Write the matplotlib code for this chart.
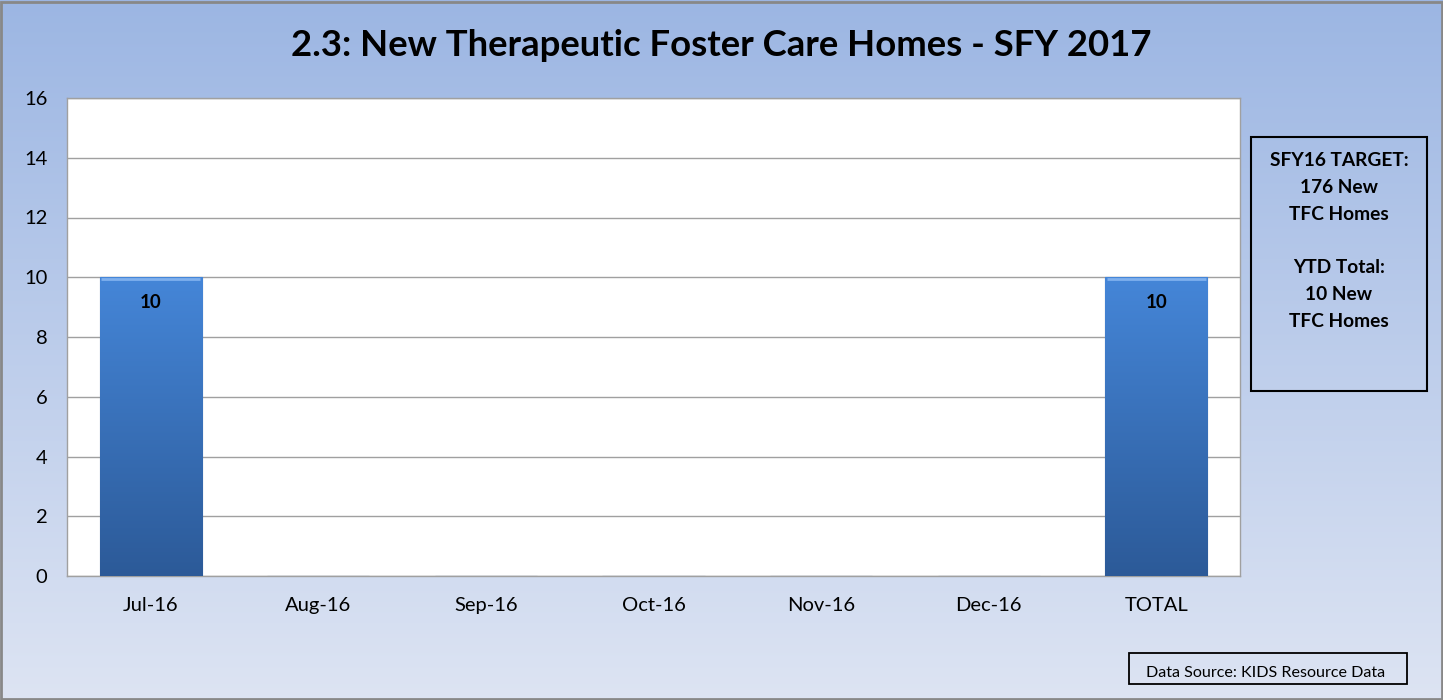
import matplotlib.pyplot as plt
import numpy as np
from matplotlib.patches import Rectangle

plt.rcParams['font.family'] = ['Lato', 'DejaVu Sans']

categories = ["Jul-16", "Aug-16", "Sep-16", "Oct-16", "Nov-16", "Dec-16", "TOTAL"]
values = [10, 0, 0, 0, 0, 0, 10]
yticks = [0, 2, 4, 6, 8, 10, 12, 14, 16]
title = "2.3: New Therapeutic Foster Care Homes - SFY 2017"
side_note = "SFY16 TARGET:\n176 New\nTFC Homes\n\nYTD Total:\n10 New\nTFC Homes"
source_note = "Data Source: KIDS Resource Data"

W, H = 1443, 700
fig = plt.figure(figsize=(W / 100, H / 100), dpi=100)

# background gradient over the whole figure
bg = fig.add_axes([0, 0, 1, 1], zorder=0)
grad = np.linspace(0, 1, 256).reshape(-1, 1)
top = np.array([0x9c, 0xb6, 0xe3]) / 255
bot = np.array([0xdd, 0xe4, 0xf3]) / 255
img = top + (bot - top) * grad[..., None]
bg.imshow(img, aspect="auto", extent=[0, 1, 0, 1], origin="upper")
bg.add_patch(Rectangle((0.001, 0.002), 0.998, 0.995, fill=False,
                       edgecolor="#888888", linewidth=2, transform=bg.transAxes))
bg.set_axis_off()

ax = fig.add_axes([67 / W, 1 - 576 / H, (1240 - 67) / W, (576 - 98) / H], zorder=1)
ax.set_facecolor("white")
x = np.arange(len(categories))
bars = ax.bar(x, values, width=0.61, color="#3b73bd", edgecolor="#2a5286",
              linewidth=0.8, zorder=3)

# vertical gradient inside each bar
bar_grad = np.linspace(0, 1, 256).reshape(-1, 1)
c_top = np.array([0x45, 0x86, 0xd8]) / 255
c_bot = np.array([0x2c, 0x5a, 0x98]) / 255
bar_img = c_top + (c_bot - c_top) * bar_grad[..., None]
for b in bars:
    if b.get_height() == 0:
        continue
    x0, w, h = b.get_x(), b.get_width(), b.get_height()
    im = ax.imshow(bar_img, aspect="auto", extent=[x0, x0 + w, 0, h],
                   origin="upper", zorder=3.5)
    im.set_clip_path(b)
    # light bevel along the top edge
    ax.plot([x0 + 0.01, x0 + w - 0.01], [h - 0.05, h - 0.05], color="#7fb0ee",
            linewidth=2, zorder=3.6, solid_capstyle="butt")
    ax.annotate(str(h), xy=(x0 + w / 2, h), xytext=(0, -18),
                textcoords="offset points", ha="center", va="center",
                fontsize=13.5, fontweight="bold", zorder=5)

ax.set_xlim(-0.5, len(categories) - 0.5)
ax.set_ylim(0, 16)
ax.set_yticks(yticks)
ax.set_xticks(x)
ax.set_xticklabels(categories, fontsize=14.5)
ax.tick_params(axis="y", labelsize=14.5, length=0, pad=14)
ax.tick_params(axis="x", length=0, pad=15)
ax.grid(axis="y", color="#a0a0a0", linewidth=1, zorder=1)
for s in ax.spines.values():
    s.set_color("#a0a0a0")
    s.set_linewidth(1)

fig.text(0.5, 1 - 46 / H, title, ha="center", va="center",
         fontsize=26.3, fontweight="bold", zorder=5)

fig.patches.append(Rectangle((1251 / W, 1 - 391 / H), (1427 - 1251) / W,
                             (391 - 137) / H, transform=fig.transFigure,
                             fill=False, edgecolor="black", linewidth=1.5, zorder=5))
fig.text(1339 / W, 1 - 152 / H, side_note, ha="center", va="top",
         fontsize=13.8, fontweight="bold", linespacing=1.70, zorder=6)

fig.patches.append(Rectangle((1129 / W, 1 - 684 / H), (1407 - 1129) / W,
                             (684 - 653) / H, transform=fig.transFigure,
                             fill=False, edgecolor="black", linewidth=1.3, zorder=5))
fig.text(1266 / W, 1 - 673 / H, source_note, ha="center", va="center",
         fontsize=11.6, zorder=6)

fig.savefig("out.png", dpi=100)
